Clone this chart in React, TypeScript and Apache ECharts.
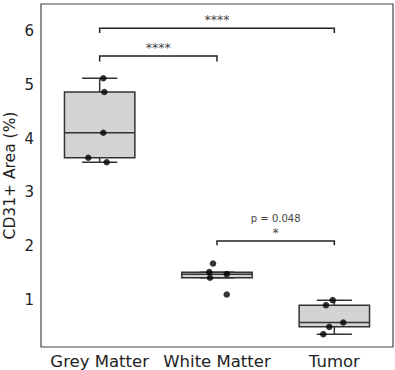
import React, { useEffect, useRef } from "react";
import * as echarts from "echarts";

const categories = ["Grey Matter", "White Matter", "Tumor"];
// [whiskerLow, Q1, median, Q3, whiskerHigh]
const boxStats = [
  [3.56, 3.645, 4.11, 4.866, 5.121],
  [1.415, 1.415, 1.483, 1.52, 1.52],
  [0.368, 0.504, 0.585, 0.907, 1.0],
];
const greyValues = [5.121, 4.866, 4.11, 3.645, 3.56];
const greyJitter = [0.031, 0.04, 0.031, -0.097, 0.06];
const whiteValues = [1.68, 1.52, 1.483, 1.415, 1.106];
const whiteJitter = [-0.034, -0.066, 0.083, -0.06, 0.083];
const tumorValues = [1.0, 0.907, 0.585, 0.504, 0.368];
const tumorJitter = [-0.014, -0.071, 0.076, -0.043, -0.094];

const bracketFrom = [0, 0, 1];
const bracketTo = [2, 1, 2];
const bracketTop = [6.05, 5.535, 2.1];
const bracketTip = [5.96, 5.43, 2.02];
const bracketStars = ["****", "****", "*"];
const bracketP = ["", "", "p = 0.048"];

const yTicks = [1, 2, 3, 4, 5, 6];
const FONT = "DejaVu Sans";

export default function App() {
  const ref = useRef<HTMLDivElement>(null);
  useEffect(() => {
    if (!ref.current) return;
    const chart = echarts.init(ref.current, null, { renderer: "svg" });
    const points: number[][] = [];
    [greyValues, whiteValues, tumorValues].forEach((vals, i) => {
      const jit = [greyJitter, whiteJitter, tumorJitter][i];
      vals.forEach((v, k) => points.push([i + jit[k], v]));
    });
    const boxData = boxStats.map((s, i) => [i, ...s]);
    const bracketData = bracketFrom.map((f, i) => [f, bracketTo[i], bracketTop[i], bracketTip[i], i]);
    const lineStyle = { stroke: "#333", lineWidth: 1.5 };
    chart.setOption({
      animation: false,
      grid: {
        left: 41,
        right: 2,
        top: 4,
        bottom: 23,
        show: true,
        borderColor: "#444",
        borderWidth: 1.2,
        backgroundColor: "transparent",
        containLabel: false,
        outerBoundsMode: "none",
      },
      xAxis: {
        type: "value",
        min: -0.5,
        max: 2.5,
        splitLine: { show: false },
        axisLine: { show: false },
        axisTick: { show: false },
        axisLabel: {
          customValues: [0, 1, 2],
          formatter: (v: number) => categories[Math.round(v)] ?? "",
          fontFamily: FONT,
          fontSize: 16.5,
          color: "#222",
          margin: 6,
        },
      },
      yAxis: {
        type: "value",
        min: 0.13,
        max: 6.5,
        name: "CD31+ Area (%)",
        nameLocation: "middle",
        nameGap: 23,
        nameMoveOverlap: false,
        nameTextStyle: { fontFamily: FONT, fontSize: 15.5, color: "#222" },
        splitLine: { show: false },
        axisLine: { show: false },
        axisTick: { show: false },
        axisLabel: {
          customValues: yTicks,
          fontFamily: FONT,
          fontSize: 15,
          color: "#222",
          margin: 7,
        },
      },
      series: [
        {
          type: "custom",
          data: boxData,
          encode: { x: 0, y: [1, 2, 3, 4, 5] },
          renderItem: (params: any, api: any) => {
            const i = api.value(0);
            const lo = api.value(1), q1 = api.value(2), med = api.value(3), q3 = api.value(4), hi = api.value(5);
            const bl = api.coord([i - 0.3, q3]);
            const br = api.coord([i + 0.3, q1]);
            const cl = api.coord([i - 0.15, lo]);
            const cr = api.coord([i + 0.15, hi]);
            const c = api.coord([i, med]);
            const pQ1 = api.coord([i, q1]);
            const pQ3 = api.coord([i, q3]);
            return {
              type: "group",
              children: [
                { type: "line", shape: { x1: c[0], y1: pQ3[1], x2: c[0], y2: cr[1] }, style: lineStyle },
                { type: "line", shape: { x1: c[0], y1: pQ1[1], x2: c[0], y2: cl[1] }, style: lineStyle },
                { type: "line", shape: { x1: cl[0], y1: cr[1], x2: cr[0], y2: cr[1] }, style: lineStyle },
                { type: "line", shape: { x1: cl[0], y1: cl[1], x2: cr[0], y2: cl[1] }, style: lineStyle },
                {
                  type: "rect",
                  shape: { x: bl[0], y: bl[1], width: br[0] - bl[0], height: br[1] - bl[1] },
                  style: { fill: "#d3d3d3", stroke: "#333", lineWidth: 1.5 },
                },
                { type: "line", shape: { x1: bl[0], y1: c[1], x2: br[0], y2: c[1] }, style: lineStyle },
              ],
            };
          },
          z: 2,
        },
        {
          type: "scatter",
          data: points,
          symbolSize: 6.5,
          itemStyle: { color: "#000" },
          z: 3,
        },
        {
          type: "custom",
          data: bracketData,
          encode: { x: [0, 1], y: [2, 3] },
          renderItem: (params: any, api: any) => {
            const f = api.value(0), t = api.value(1), top = api.value(2), tip = api.value(3), idx = api.value(4);
            const a = api.coord([f, top]);
            const b = api.coord([t, top]);
            const at = api.coord([f, tip]);
            const mid = (a[0] + b[0]) / 2;
            const children: any[] = [
              {
                type: "polyline",
                shape: { points: [[a[0], at[1]], a, b, [b[0], at[1]]] },
                style: { stroke: "#222", lineWidth: 1.5, fill: "none" },
              },
              {
                type: "text",
                style: {
                  text: bracketStars[idx],
                  x: mid,
                  y: a[1] - 2,
                  align: "center",
                  verticalAlign: "bottom",
                  fontFamily: FONT,
                  fontSize: 12.5,
                  fill: "#444",
                },
              },
            ];
            if (bracketP[idx]) {
              children.push({
                type: "text",
                style: {
                  text: bracketP[idx],
                  x: mid,
                  y: a[1] - 17,
                  align: "center",
                  verticalAlign: "bottom",
                  fontFamily: FONT,
                  fontSize: 10,
                  fill: "#444",
                },
              });
            }
            return { type: "group", children };
          },
          z: 4,
        },
      ],
    });
    return () => chart.dispose();
  }, []);
  return <div ref={ref} style={{ width: 395, height: 370, position: "absolute", left: 0, top: 0 }} />;
}
